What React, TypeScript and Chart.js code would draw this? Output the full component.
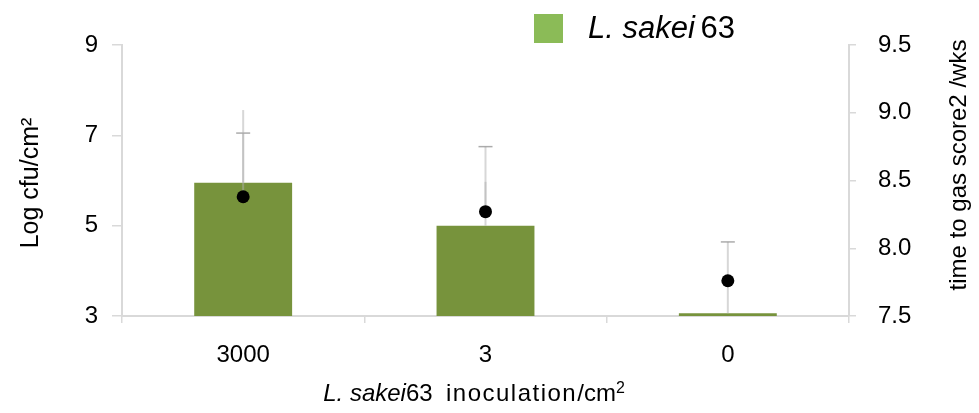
import React, { useEffect, useRef } from "react";
import { Chart, registerables } from "chart.js";

Chart.register(...registerables);

const categories = ["3000", "3", "0"];
const barValues = [5.95, 5.0, 3.06];
const barErrors = [1.1, 1.75, 1.58];
const dotValues = [8.38, 8.27, 7.76];
const dotErrors = [0.64, 0.22, 0];
const leftTicks = [3, 5, 7, 9];
const rightTicks = [7.5, 8.0, 8.5, 9.0, 9.5];

const FONT = "'Liberation Sans', Arial, sans-serif";
const AXIS_GRAY = "#d9d9d9";
const BAR_COLOR = "#77933C";
const LEGEND_COLOR = "#8BBB57";

const errorPlugin = {
  id: "errorBars",
  afterDatasetDraw(chart: any, args: any) {
    if (args.index !== 0) return;
    const ctx = chart.ctx;
    const yL = chart.scales.y;
    const yR = chart.scales.y1;
    const barMeta = chart.getDatasetMeta(0);
    const dotMeta = chart.getDatasetMeta(1);
    ctx.save();
    ctx.lineCap = "butt";
    for (let i = 0; i < categories.length; i++) {
      const x = barMeta.data[i].x;
      const y0 = yL.getPixelForValue(barValues[i]);
      const y1 = yL.getPixelForValue(barValues[i] + barErrors[i]);
      ctx.strokeStyle = "rgba(175,175,175,0.5)";
      ctx.lineWidth = 2;
      ctx.beginPath();
      ctx.moveTo(x, y0);
      ctx.lineTo(x, y1);
      ctx.stroke();
      ctx.strokeStyle = "rgba(150,150,150,0.8)";
      ctx.lineWidth = 1.5;
      ctx.beginPath();
      ctx.moveTo(x - 7, y1);
      ctx.lineTo(x + 7, y1);
      ctx.stroke();
      if (dotErrors[i] > 0) {
        const xd = dotMeta.data[i].x;
        const d0 = yR.getPixelForValue(dotValues[i]);
        const d1 = yR.getPixelForValue(dotValues[i] + dotErrors[i]);
        ctx.strokeStyle = "rgba(175,175,175,0.5)";
        ctx.lineWidth = 2;
        ctx.beginPath();
        ctx.moveTo(xd, d0);
        ctx.lineTo(xd, d1);
        ctx.stroke();
      }
    }
    ctx.restore();
  },
};

const textPlugin = {
  id: "texts",
  afterDraw(chart: any) {
    const ctx = chart.ctx;
    ctx.save();
    // Legend
    ctx.fillStyle = LEGEND_COLOR;
    ctx.fillRect(534, 14, 29, 29);
    ctx.fillStyle = "#000";
    ctx.textBaseline = "alphabetic";
    ctx.textAlign = "left";
    ctx.font = `italic 31px ${FONT}`;
    const legItalic = "L. sakei";
    ctx.fillText(legItalic, 588, 38);
    const w1 = ctx.measureText(legItalic + " ").width;
    ctx.font = `31px ${FONT}`;
    ctx.fillText("63", 588 + w1 - 3, 38);

    // Left title
    ctx.save();
    ctx.translate(31, 183);
    ctx.rotate(-Math.PI / 2);
    ctx.textAlign = "center";
    ctx.textBaseline = "middle";
    ctx.font = `25px ${FONT}`;
    ctx.fillText("Log cfu/cm²", 0, 0);
    ctx.restore();

    // Right title
    ctx.save();
    ctx.translate(959, 165);
    ctx.rotate(-Math.PI / 2);
    ctx.textAlign = "center";
    ctx.textBaseline = "middle";
    ctx.font = `24px ${FONT}`;
    ctx.fillText("time to gas score2 /wks", 0, 0);
    ctx.restore();

    // X title with mixed styles
    const parts = [
      { t: "L. sakei", f: `italic 24px ${FONT}`, dy: 0, ls: 0 },
      { t: "63  ", f: `24px ${FONT}`, dy: 0, ls: 0 },
      { t: "inoculation", f: `24px ${FONT}`, dy: 0, ls: 1.5 },
      { t: "/cm", f: `24px ${FONT}`, dy: 0, ls: 0 },
      { t: "2", f: `16px ${FONT}`, dy: -8, ls: 0 },
    ];
    let total = 0;
    const widths: number[] = [];
    for (const p of parts) {
      ctx.font = p.f;
      (ctx as any).letterSpacing = `${p.ls}px`;
      const w = ctx.measureText(p.t).width;
      widths.push(w);
      total += w;
    }
    let x = 474 - total / 2;
    ctx.textAlign = "left";
    ctx.textBaseline = "alphabetic";
    parts.forEach((p, i) => {
      ctx.font = p.f;
      (ctx as any).letterSpacing = `${p.ls}px`;
      ctx.fillText(p.t, x, 401 + p.dy);
      x += widths[i];
    });
    (ctx as any).letterSpacing = "0px";
    ctx.restore();
  },
};

export default function App() {
  const ref = useRef<HTMLCanvasElement | null>(null);
  useEffect(() => {
    if (!ref.current) return;
    const chart = new Chart(ref.current, {
      type: "bar",
      data: {
        labels: categories,
        datasets: [
          {
            type: "bar",
            data: barValues,
            backgroundColor: BAR_COLOR,
            yAxisID: "y",
            barPercentage: 0.404,
            categoryPercentage: 1,
            order: 1,
          } as any,
          {
            type: "line",
            data: dotValues,
            yAxisID: "y1",
            showLine: false,
            pointRadius: 6.5,
            pointBackgroundColor: "#000",
            pointBorderColor: "#000",
            pointBorderWidth: 0,
            order: 0,
          } as any,
        ],
      },
      options: {
        responsive: false,
        animation: false,
        devicePixelRatio: 1,
        layout: { padding: { top: 45, left: 0, right: 0, bottom: 0 } },
        plugins: {
          legend: { display: false },
          tooltip: { enabled: false },
          title: { display: false },
        },
        scales: {
          x: {
            type: "category",
            offset: true,
            grid: {
              offset: true,
              drawOnChartArea: false,
              drawTicks: true,
              tickLength: 7,
              color: AXIS_GRAY,
              lineWidth: 1.5,
            },
            border: { display: true, color: AXIS_GRAY, width: 2 },
            ticks: {
              font: { family: FONT, size: 24 },
              color: "#000",
              padding: 18,
              maxRotation: 0,
            },
            afterFit(scale: any) {
              scale.height = 413 - 316;
            },
          },
          y: {
            position: "left",
            min: 3,
            max: 9,
            afterBuildTicks(scale: any) {
              scale.ticks = leftTicks.map((v) => ({ value: v }));
            },
            grid: {
              drawOnChartArea: false,
              drawTicks: true,
              tickLength: 10,
              color: AXIS_GRAY,
              lineWidth: 1.5,
            },
            border: { display: true, color: AXIS_GRAY, width: 2 },
            ticks: {
              font: { family: FONT, size: 24 },
              color: "#000",
              padding: 14,
            },
            afterFit(scale: any) {
              scale.width = 122;
            },
          },
          y1: {
            position: "right",
            min: 7.5,
            max: 9.5,
            afterBuildTicks(scale: any) {
              scale.ticks = rightTicks.map((v) => ({ value: v }));
            },
            grid: {
              drawOnChartArea: false,
              drawTicks: true,
              tickLength: 7,
              color: AXIS_GRAY,
              lineWidth: 1.5,
            },
            border: { display: true, color: AXIS_GRAY, width: 2 },
            ticks: {
              font: { family: FONT, size: 24 },
              color: "#000",
              padding: 22,
              callback: (v: any) => Number(v).toFixed(1),
            },
            afterFit(scale: any) {
              scale.width = 979 - 849;
            },
          },
        },
      } as any,
      plugins: [errorPlugin, textPlugin],
    });
    return () => chart.destroy();
  }, []);
  return (
    <div style={{ position: "absolute", left: 0, top: 0, width: 979, height: 413 }}>
      <canvas ref={ref} width={979} height={413} style={{ width: 979, height: 413 }} />
    </div>
  );
}
